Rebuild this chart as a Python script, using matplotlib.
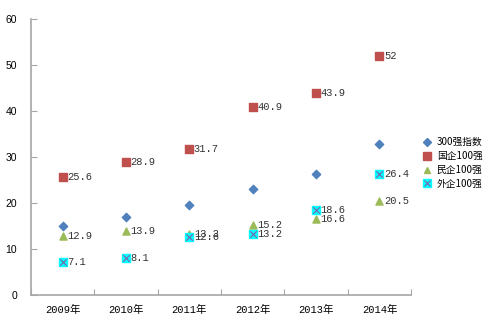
import matplotlib.pyplot as plt
from matplotlib.lines import Line2D
import numpy as np

years = ['2009年', '2010年', '2011年', '2012年', '2013年', '2014年']
idx300 = [15.1, 16.9, 19.6, 23.0, 26.4, 32.9]
soe100 = [25.6, 28.9, 31.7, 40.9, 43.9, 52]
private100 = [12.9, 13.9, 13.3, 15.2, 16.6, 20.5]
foreign100 = [7.1, 8.1, 12.6, 13.2, 18.6, 26.4]

names = ['300强指数', '国企100强', '民企100强', '外企100强']

plt.rcParams['font.family'] = ['Noto Sans CJK SC', 'DejaVu Sans']
num_font = ['Liberation Mono', 'Noto Sans CJK SC']
axis_gray = '#a6a6a6'

fig = plt.figure(figsize=(4.99, 3.25), dpi=100)
ax = fig.add_axes([0.062, 0.092, 0.762, 0.8495])

x = np.arange(len(years))
ax.scatter(x, idx300, marker='D', s=18, color='#4f81bd', zorder=3)
ax.scatter(x, soe100, marker='s', s=30, color='#c0504d', zorder=3)
ax.scatter(x, private100, marker='^', s=26, color='#9bbb59', zorder=3)
ax.scatter(x, foreign100, marker='s', s=36, color='#00ffff', zorder=3)
ax.scatter(x, foreign100, marker='x', s=22, color='#7f5fa8', linewidths=0.8, zorder=4)

def label(vals):
    for xi, v in zip(x, vals):
        ax.text(xi + 0.07, v, f'{v:g}', fontsize=7.5, family=num_font,
                va='center', ha='left', color='#333333', zorder=5)

label(soe100)
label(private100)
label(foreign100)

ax.set_xlim(-0.5, 5.5)
ax.set_ylim(0, 60)
ax.set_yticks(range(0, 61, 10))
ax.set_xticks(np.arange(-0.5, 6, 1))
ax.set_xticklabels([])
ax.set_xticks(x, minor=True)
ax.set_xticklabels(years, minor=True, fontsize=7.5, family=num_font)
ax.tick_params(axis='x', which='minor', length=0, pad=7)
ax.tick_params(axis='x', which='major', length=4, color=axis_gray, direction='in')
ax.tick_params(axis='y', length=4, color=axis_gray, direction='in', labelsize=7.5, pad=10)
for lbl in ax.get_yticklabels():
    lbl.set_family('Liberation Sans')

for s in ['top', 'right']:
    ax.spines[s].set_visible(False)
for s in ['left', 'bottom']:
    ax.spines[s].set_color(axis_gray)
    ax.spines[s].set_linewidth(1.2)

handles = [
    Line2D([], [], marker='D', ls='', color='#4f81bd', markersize=4),
    Line2D([], [], marker='s', ls='', color='#c0504d', markersize=5.5),
    Line2D([], [], marker='^', ls='', color='#9bbb59', markersize=5),
    (Line2D([], [], marker='s', ls='', color='#00ffff', markersize=6),
     Line2D([], [], marker='x', ls='', color='#7f5fa8', markersize=4.5, markeredgewidth=0.8)),
]
fig.legend(handles, names, loc='upper left', bbox_to_anchor=(0.838, 0.59),
           frameon=False, fontsize=7, handlelength=1.0, handletextpad=0.5,
           labelspacing=0.4, borderaxespad=0)

fig.savefig('out.png', dpi=100)
